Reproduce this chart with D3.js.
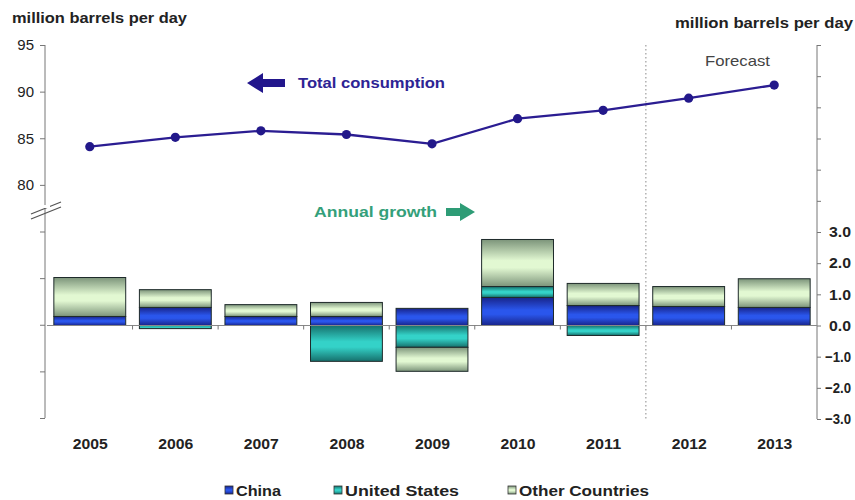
<!DOCTYPE html>
<html><head><meta charset="utf-8">
<script src="https://cdn.jsdelivr.net/npm/d3@7"></script>
<style>body{margin:0;background:#fff}svg{display:block;font-family:"Liberation Sans",Arial,sans-serif}</style>
</head><body><svg id="c" width="855" height="500"></svg>
<script>
const years = ["2005","2006","2007","2008","2009","2010","2011","2012","2013"];
const totalConsumption = [84.1, 85.1, 85.8, 85.4, 84.4, 87.1, 88.0, 89.3, 90.7];
const china = [0.29, 0.58, 0.29, 0.29, 0.55, 0.90, 0.64, 0.61, 0.58];
const unitedStates = [0.0, -0.10, 0.0, -1.15, -0.70, 0.35, -0.32, 0.0, 0.0];
const otherCountries = [1.25, 0.57, 0.38, 0.45, -0.77, 1.51, 0.71, 0.64, 0.92];
const seriesNames = ["China", "United States", "Other Countries"];
const leftTicks = [55, 60, 65, 70, 75, 80, 85, 90, 95];
const leftLabelled = [80, 85, 90, 95];
const rightTicks = [-3, -2, -1, 0, 1, 2, 3, 4, 5, 6, 7, 8, 9];
const rightLabelled = [-3, -2, -1, 0, 1, 2, 3];

const svg = d3.select("#c");
const x = d3.scaleBand().domain(years).range([47, 817]).paddingInner(0.16).paddingOuter(0.08);
const yL = d3.scaleLinear().domain([55, 95]).range([418, 45]);
const yR = d3.scaleLinear().domain([-3, 9]).range([419, 45]);

// gradients
const defs = svg.append("defs");
const grads = [
  ["g0", "#18248a", "#2a56ec"],
  ["g1", "#16706c", "#34d2c8"],
  ["g2", "#7c947a", "#e2f8d2"]
];
grads.forEach(([id, edge, mid]) => {
  const g = defs.append("linearGradient").attr("id", id).attr("x1", 0).attr("y1", 0).attr("x2", 0).attr("y2", 1);
  g.append("stop").attr("offset", "0%").attr("stop-color", edge);
  g.append("stop").attr("offset", "45%").attr("stop-color", mid);
  g.append("stop").attr("offset", "60%").attr("stop-color", mid);
  g.append("stop").attr("offset", "100%").attr("stop-color", edge);
});

function fitText(sel, len) { return sel.attr("textLength", len).attr("lengthAdjust", "spacingAndGlyphs"); }

// titles
fitText(svg.append("text").attr("x", 12).attr("y", 23).attr("font-size", 15).attr("font-weight", "bold").attr("fill", "#222").text("million barrels per day"), 175);
fitText(svg.append("text").attr("x", 675).attr("y", 28).attr("font-size", 15).attr("font-weight", "bold").attr("fill", "#222").text("million barrels per day"), 178);

// left axis
const axL = d3.axisLeft(yL).tickValues(leftTicks).tickSize(5).tickFormat(d => leftLabelled.includes(d) ? d : "");
const gL = svg.append("g").attr("transform", "translate(45,0)").call(axL);
gL.selectAll("path,line").attr("stroke", "#777");
gL.select(".domain").attr("d", `M-0,${yL(95)}V${yL(55)}`);
gL.selectAll("text").attr("font-size", 15).attr("fill", "#222").attr("x", -11).attr("font-family", "Liberation Sans, Arial, sans-serif");

// axis break marks
svg.append("g").selectAll("line").data([0, 5]).join("line")
  .attr("x1", 31).attr("x2", 61).attr("y1", d => 214 + d).attr("y2", d => 202 + d)
  .attr("stroke", "#555").attr("stroke-width", 1.2);
svg.append("rect").attr("x", 40).attr("y", 205).attr("width", 10).attr("height", 3).attr("fill", "#fff");

// right axis
const axR = d3.axisRight(yR).tickValues(rightTicks).tickSize(4).tickFormat(d => rightLabelled.includes(d) ? d3.format(".1f")(d) : "");
const gR = svg.append("g").attr("transform", "translate(817,0)").call(axR);
gR.selectAll("path,line").attr("stroke", "#777");
gR.select(".domain").attr("d", `M0,${yR(9)}V${yR(-3)}`);
gR.selectAll("text").attr("font-size", 15).attr("font-weight", "bold").attr("fill", "#222")
  .attr("x", d => d < 0 ? 8 : 12).attr("font-family", "Liberation Sans, Arial, sans-serif")
  .filter(d => rightLabelled.includes(d))
  .attr("textLength", d => d < 0 ? 26 : 22).attr("lengthAdjust", "spacingAndGlyphs");

// forecast divider
const divX = (x("2011") + x.bandwidth() + x("2012")) / 2;
svg.append("line").attr("x1", divX).attr("x2", divX).attr("y1", 45).attr("y2", 420)
  .attr("stroke", "#888").attr("stroke-dasharray", "1.5,2.5");
fitText(svg.append("text").attr("x", 705).attr("y", 66).attr("font-size", 15).attr("fill", "#444").text("Forecast"), 65);

// stacked bars
const rows = years.map((y, i) => ({ year: y, China: china[i], "United States": unitedStates[i], "Other Countries": otherCountries[i] }));
const stack = d3.stack().keys(seriesNames).offset(d3.stackOffsetDiverging)(rows);
svg.append("g").selectAll("g").data(stack).join("g")
  .attr("fill", (d, i) => `url(#g${i})`)
  .selectAll("rect").data(d => d.filter(v => Math.abs(v[1] - v[0]) > 0.001)).join("rect")
  .attr("x", d => x(d.data.year))
  .attr("width", x.bandwidth())
  .attr("y", d => yR(Math.max(d[0], d[1])))
  .attr("height", d => Math.abs(yR(d[0]) - yR(d[1])))
  .attr("stroke", "#1e2a2a").attr("stroke-width", 1);

// x axis baseline
const axX = svg.append("g");
axX.append("line").attr("x1", 47).attr("x2", 817).attr("y1", yR(0)).attr("y2", yR(0)).attr("stroke", "#888");
axX.selectAll("line.t").data(years.slice(1)).join("line").attr("class", "t")
  .attr("x1", d => x(d) - x.step() * x.paddingInner() / 2).attr("x2", d => x(d) - x.step() * x.paddingInner() / 2)
  .attr("y1", yR(0)).attr("y2", yR(0) + 4).attr("stroke", "#777");
fitText(axX.selectAll("text").data(years).join("text")
  .attr("x", d => x(d) + x.bandwidth() / 2 - 17).attr("y", 449)
  .attr("font-size", 15).attr("font-weight", "bold").attr("fill", "#222").text(d => d), 35);

// total consumption line
const line = d3.line().x((d, i) => x(years[i]) + x.bandwidth() / 2).y(d => yL(d));
svg.append("path").datum(totalConsumption).attr("d", line).attr("fill", "none").attr("stroke", "#2b1d92").attr("stroke-width", 2.3);
svg.append("g").selectAll("circle").data(totalConsumption).join("circle")
  .attr("cx", (d, i) => x(years[i]) + x.bandwidth() / 2).attr("cy", d => yL(d)).attr("r", 4.6).attr("fill", "#22188a");

// annotations
svg.append("path").attr("d", "M247,83 L263,73 L263,79 L285,79 L285,87 L263,87 L263,93 Z").attr("fill", "#22168c");
fitText(svg.append("text").attr("x", 298).attr("y", 88).attr("font-size", 15).attr("font-weight", "bold").attr("fill", "#2d2494").text("Total consumption"), 147);
svg.append("path").attr("d", "M475,212 L460,203 L460,208 L446,208 L446,216 L460,216 L460,221 Z").attr("fill", "#2e9c76");
fitText(svg.append("text").attr("x", 314).attr("y", 217).attr("font-size", 15).attr("font-weight", "bold").attr("fill", "#34a07a").text("Annual growth"), 123);

// legend
const legX = [225, 334, 508];
const legLen = [45, 114, 130];
const lg = svg.append("g").selectAll("g").data(seriesNames).join("g").attr("transform", (d, i) => `translate(${legX[i]},486)`);
lg.append("rect").attr("width", 8).attr("height", 8).attr("fill", (d, i) => `url(#g${i})`).attr("stroke", "#333").attr("stroke-width", 0.8);
lg.append("text").attr("x", 11).attr("y", 10).attr("font-size", 15).attr("font-weight", "bold").attr("fill", "#222")
  .attr("textLength", (d, i) => legLen[i]).attr("lengthAdjust", "spacingAndGlyphs").text(d => d);
</script></body></html>
